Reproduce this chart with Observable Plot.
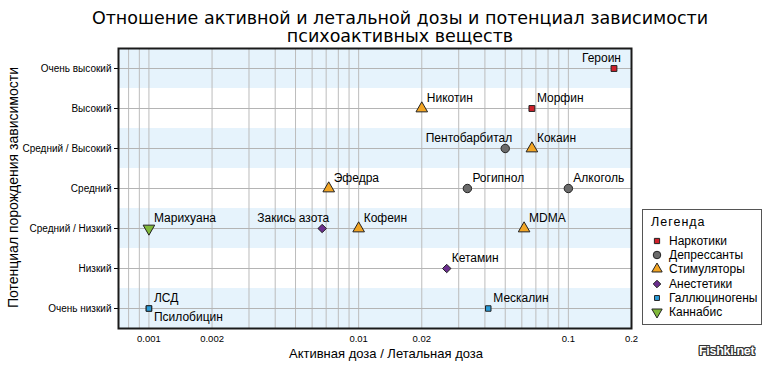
<!DOCTYPE html>
<html><head><meta charset="utf-8">
<script src="https://cdn.jsdelivr.net/npm/d3@7"></script>
<script src="https://cdn.jsdelivr.net/npm/@observablehq/plot@0.6"></script>
<style>
body{margin:0;background:#fff;}
#wrap{position:relative;width:765px;height:366px;overflow:hidden;font-family:"Liberation Sans",Arial,sans-serif;background:#fff;}
#title{height:45px;box-sizing:border-box;padding-top:9px;padding-left:35px;text-align:center;font-family:"DejaVu Sans",sans-serif;font-size:17.5px;line-height:18px;color:#000;}
#title div{height:18px;}
#chart svg{display:block;}
#legend{position:absolute;left:642px;top:209px;width:120px;height:116px;border:1px solid #555;background:#fff;box-sizing:border-box;font-size:12px;color:#000;}
#legend .lt{position:absolute;left:8px;top:5px;font-size:12.5px;letter-spacing:1px;}
#legend .it{position:absolute;left:7px;height:14px;line-height:14px;white-space:nowrap;}
#legend .it svg{position:absolute;left:0;top:0;}
#legend .it span{position:absolute;left:19px;top:0;}
#wm{position:absolute;left:699px;top:344px;font-weight:bold;font-size:12.5px;color:#fff;text-shadow:-1px 0 #333,1px 0 #333,0 -1px #333,0 1px #333,-1px -1px #333,1px 1px #333,-1px 1px #333,1px -1px #333;letter-spacing:-0.3px;}
</style></head>
<body>
<div id="wrap">
  <div id="title"><div>Отношение активной и летальной дозы и потенциал зависимости</div><div>психоактивных веществ</div></div>
  <div id="chart"></div>
  <div id="legend"></div>
  <div id="wm">Fishki.net</div>
</div>
<script>
// ---- data ----
const categories = ["Очень высокий", "Высокий", "Средний / Высокий", "Средний", "Средний / Низкий", "Низкий", "Очень низкий"];
const bandCats = ["Очень высокий", "Средний / Высокий", "Средний / Низкий", "Очень низкий"];
const xTicks = [0.001, 0.002, 0.01, 0.02, 0.1, 0.2];
const xDomain = [0.000716, 0.2];

const drugs      = ["Героин", "Морфин", "Никотин", "Пентобарбитал", "Кокаин", "Рогипнол", "Алкоголь", "Эфедра", "Марихуана", "Закись азота", "Кофеин", "MDMA", "Кетамин", "ЛСД", "Псилобицин", "Мескалин"];
const ratios     = [0.165, 0.067, 0.02, 0.05, 0.067, 0.033, 0.1, 0.0072, 0.001, 0.0067, 0.01, 0.0615, 0.0263, 0.001, 0.001, 0.0415];
const dependence = ["Очень высокий", "Высокий", "Высокий", "Средний / Высокий", "Средний / Высокий", "Средний", "Средний", "Средний", "Средний / Низкий", "Средний / Низкий", "Средний / Низкий", "Средний / Низкий", "Низкий", "Очень низкий", "Очень низкий", "Очень низкий"];
const classes    = ["Наркотики", "Наркотики", "Стимуляторы", "Депрессанты", "Стимуляторы", "Депрессанты", "Депрессанты", "Стимуляторы", "Каннабис", "Анестетики", "Стимуляторы", "Стимуляторы", "Анестетики", "Галлюциногены", "Галлюциногены", "Галлюциногены"];

const classNames = ["Наркотики", "Депрессанты", "Стимуляторы", "Анестетики", "Галлюциногены", "Каннабис"];

// ---- styling ----
const triangleDown = {
  draw(context, size) {
    const k = Math.sqrt(size / (Math.sqrt(3) * 3));
    context.moveTo(0, 2 * k);
    context.lineTo(Math.sqrt(3) * k, -k);
    context.lineTo(-Math.sqrt(3) * k, -k);
    context.closePath();
  }
};
const classStyle = {
  "Наркотики":     {fill: "#d0202a", symbol: "square",   r: 3.3},
  "Депрессанты":   {fill: "#6b6b6b", symbol: "circle",   r: 4.2},
  "Стимуляторы":   {fill: "#f2a524", symbol: "triangle", r: 4.3},
  "Анестетики":    {fill: "#6b2f8e", symbol: "diamond2", r: 3.8},
  "Галлюциногены": {fill: "#2b9cd8", symbol: "square",   r: 3.1},
  "Каннабис":      {fill: "#80b93a", symbol: triangleDown, r: 4.3}
};
const labelsLeft = ["Героин", "Пентобарбитал", "Закись азота"];
const labelsBelow = ["Псилобицин"];

const rows = drugs.map((d, i) => ({name: d, ratio: ratios[i], dep: dependence[i], cls: classes[i]}));
const gridVals = d3.scaleLog().domain(xDomain).ticks().filter(v => v >= xDomain[0] && v <= xDomain[1]);

const dotMarks = classNames.map(c => Plot.dot(rows.filter(r => r.cls === c), {
  x: "ratio", y: "dep", symbol: classStyle[c].symbol, r: classStyle[c].r,
  fill: classStyle[c].fill, stroke: "#222", strokeWidth: 1
}));

const startRows = rows.filter(r => !labelsLeft.includes(r.name) && !labelsBelow.includes(r.name));
const leftRows = rows.filter(r => labelsLeft.includes(r.name));
const belowRows = rows.filter(r => labelsBelow.includes(r.name));

const plot = Plot.plot({
  width: 765, height: 321,
  marginTop: 3, marginBottom: 38, marginLeft: 118, marginRight: 134,
  x: {type: "log", domain: xDomain},
  y: {type: "band", domain: categories, padding: 0},
  style: {fontFamily: "Liberation Sans, Arial, sans-serif", fontSize: "10px", color: "#000", background: "transparent"},
  marks: [
    Plot.barX(bandCats, {x1: () => xDomain[0], x2: () => xDomain[1], y: d => d, fill: "#e6f3fc"}),
    Plot.ruleX(gridVals, {x: d => d, stroke: "#bcbcbc", strokeWidth: 1}),
    Plot.ruleY(categories, {y: d => d, stroke: "#b4b4b4", strokeWidth: 1}),
    Plot.axisX(xTicks, {tickSize: 0, tickPadding: 7, tickFormat: d => String(d), fontSize: 9.5, label: null}),
    Plot.axisY({tickSize: 4, tickPadding: 3, fontSize: 10, label: null}),
    ...dotMarks,
    Plot.text(startRows, {x: "ratio", y: "dep", text: "name", dx: 5, dy: -10, textAnchor: "start", fontSize: 12, fill: "#000"}),
    Plot.text(leftRows, {x: "ratio", y: "dep", text: "name", dx: 7, dy: -10, textAnchor: "end", fontSize: 12, fill: "#000"}),
    Plot.text(belowRows, {x: "ratio", y: "dep", text: "name", dx: 5, dy: 9, textAnchor: "start", fontSize: 12, fill: "#000"}),
    Plot.text(["Потенциал порождения зависимости"], {frameAnchor: "left", text: d => d, rotate: -90, textAnchor: "middle", dx: -105, dy: -1, fontSize: 14, fill: "#000"}),
    Plot.text(["Активная доза / Летальная доза"], {frameAnchor: "bottom", text: d => d, textAnchor: "middle", dx: 11, dy: 29, fontSize: 13, fill: "#000"}),
    Plot.frame({stroke: "#1a1a1a", strokeWidth: 2})
  ]
});
document.getElementById("chart").appendChild(plot);

// legend
const leg = d3.select("#legend");
leg.append("div").attr("class", "lt").text("Легенда");
classNames.forEach((c, i) => {
  const it = leg.append("div").attr("class", "it").style("top", (24 + i * 14.2) + "px");
  const st = classStyle[c];
  const symType = typeof st.symbol === "string"
    ? ({square: d3.symbolSquare, circle: d3.symbolCircle, triangle: d3.symbolTriangle, diamond2: d3.symbolDiamond2})[st.symbol]
    : st.symbol;
  const svg = it.append("svg").attr("width", 14).attr("height", 14);
  svg.append("path")
    .attr("transform", "translate(7,7)")
    .attr("d", d3.symbol(symType, Math.PI * st.r * st.r * 0.8)())
    .attr("fill", st.fill).attr("stroke", "#222").attr("stroke-width", 1);
  it.append("span").text(c);
});
</script>
</body></html>
